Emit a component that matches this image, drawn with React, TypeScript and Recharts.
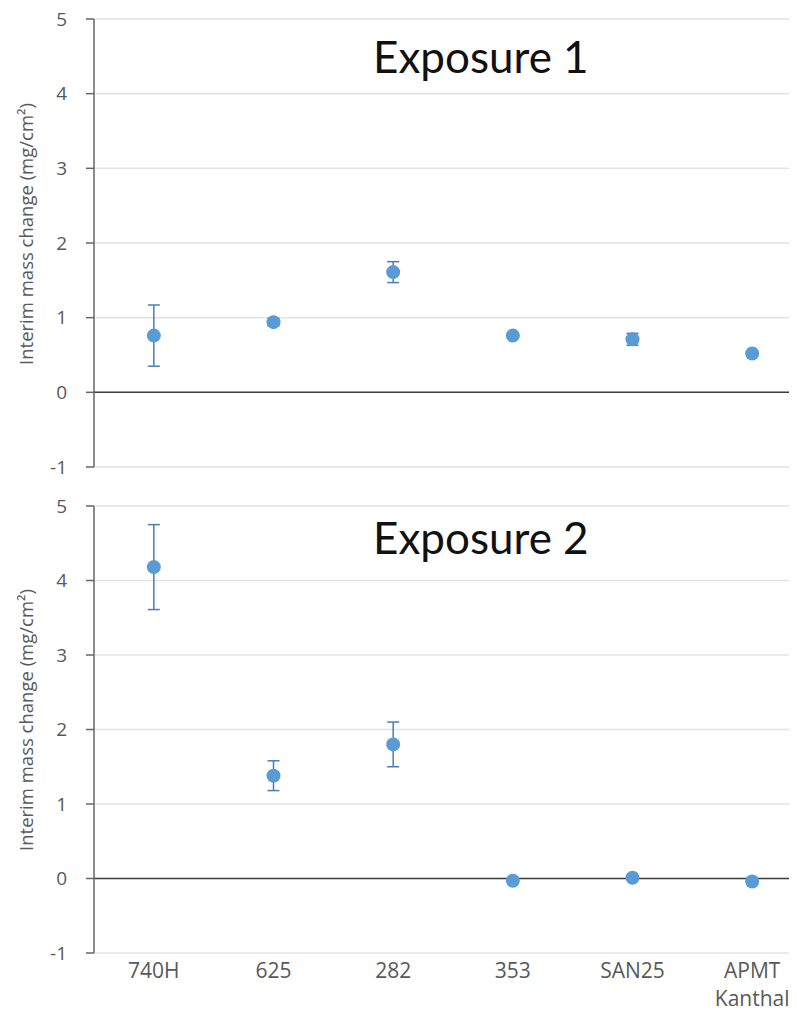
import React from "react";
import {
  LineChart,
  Line,
  XAxis,
  YAxis,
  CartesianGrid,
  ReferenceLine,
  ErrorBar,
} from "recharts";

// Alloy categories along the x axis
const alloys = ["740H", "625", "282", "353", "SAN25", "APMT Kanthal"];

// Interim mass change (mg/cm²)
const exposure1Values = [0.76, 0.94, 1.61, 0.76, 0.71, 0.52];
const exposure1Errors = [0.41, 0.05, 0.14, 0.03, 0.08, 0.03];

const exposure2Values = [4.18, 1.38, 1.8, -0.03, 0.01, -0.04];
const exposure2Errors = [0.57, 0.2, 0.3, 0, 0, 0];

const yTicks = [-1, 0, 1, 2, 3, 4, 5];

const FONT = "'Open Sans', sans-serif";
const DOT = "#5b9bd5";
const ERR = "#4a7ebb";

function buildData(values: number[], errors: number[]) {
  return alloys.map((name, i) => ({ name, value: values[i], err: errors[i] }));
}

const XTick = ({ x, y, payload }: any) => {
  const lines = String(payload.value).split(" ");
  return (
    <text x={x} y={y} textAnchor="middle" fill="#595959" fontFamily={FONT} fontSize={21}>
      {lines.map((l, i) => (
        <tspan key={i} x={x} dy={i === 0 ? 17 : 28} fontSize={i === 0 ? 21 : 21}>
          {l}
        </tspan>
      ))}
    </text>
  );
};

function Panel({
  values,
  errors,
  showX,
  height,
  top,
  bottom,
}: {
  values: number[];
  errors: number[];
  showX: boolean;
  height: number;
  top: number;
  bottom: number;
}) {
  const data = buildData(values, errors);
  return (
    <LineChart
      width={812}
      height={height}
      data={data}
      margin={{ top, right: 0, left: 38, bottom }}
    >
      <CartesianGrid vertical={false} stroke="#e3e3e3" strokeWidth={1.5} />
      <XAxis
        dataKey="name"
        scale="band"
        axisLine={false}
        tickLine={false}
        hide={!showX}
        height={showX ? 72 : 0}
        tick={<XTick />}
        interval={0}
      />
      <YAxis
        type="number"
        domain={[-1, 5]}
        ticks={yTicks}
        width={56}
        tickSize={8}
        tickMargin={19}
        axisLine={{ stroke: "#666666", strokeWidth: 1.5 }}
        tickLine={{ stroke: "#666666", strokeWidth: 1.5 }}
        tick={{ fill: "#595959", fontSize: 19, fontFamily: FONT }}
      />
      <ReferenceLine y={0} stroke="#404040" strokeWidth={1.5} />
      <Line
        dataKey="value"
        stroke="none"
        isAnimationActive={false}
        dot={{ r: 7, fill: DOT, stroke: DOT, strokeWidth: 0 }}
        activeDot={false}
      >
        <ErrorBar dataKey="err" width={6} stroke={ERR} strokeWidth={1.5} />
      </Line>
    </LineChart>
  );
}

const titleStyle: React.CSSProperties = {
  position: "absolute",
  fontFamily: "Lato, sans-serif",
  fontSize: 44,
  color: "#111",
  lineHeight: 1,
  whiteSpace: "nowrap",
};

const yLabelStyle: React.CSSProperties = {
  position: "absolute",
  fontFamily: FONT,
  fontSize: 18.5,
  color: "#595959",
  whiteSpace: "nowrap",
  transform: "translate(-50%, -50%) rotate(-90deg)",
};

export default function App() {
  return (
    <div
      style={{
        position: "relative",
        margin: -8,
        width: 797,
        height: 1033,
        overflow: "hidden",
        background: "#fff",
      }}
    >
      <div style={{ position: "absolute", left: 0, top: 0 }}>
        <Panel values={exposure1Values} errors={exposure1Errors} showX={false} height={486} top={19} bottom={19} />
      </div>
      <div style={{ position: "absolute", left: 0, top: 490 }}>
        <Panel values={exposure2Values} errors={exposure2Errors} showX={true} height={540} top={16} bottom={5} />
      </div>
      <div style={{ ...titleStyle, left: 373, top: 34 }}>Exposure 1</div>
      <div style={{ ...titleStyle, left: 373, top: 515 }}>Exposure 2</div>
      <div style={{ ...yLabelStyle, left: 25, top: 234 }}>Interim mass change (mg/cm²)</div>
      <div style={{ ...yLabelStyle, left: 25, top: 720 }}>Interim mass change (mg/cm²)</div>
    </div>
  );
}
